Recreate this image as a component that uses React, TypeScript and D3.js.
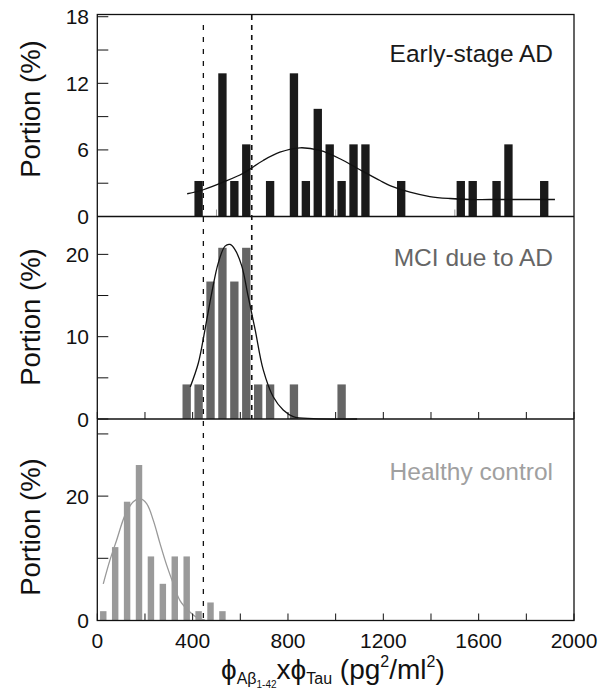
import React from 'react';
import * as d3 from 'd3';

const W = 607;
const H = 691;

// ---------- data ----------
const xTickLabels = [0, 400, 800, 1200, 1600, 2000];
const xMinorTicks = [200, 600, 1000, 1400, 1800];
const thresholds = [445, 648];

const earlyBins = [425, 525, 575, 625, 725, 825, 875, 925, 975, 1025, 1075, 1125, 1275, 1525, 1575, 1675, 1725, 1875];
const earlyPct = [3.2, 12.9, 3.2, 6.5, 3.2, 12.9, 3.2, 9.7, 6.5, 3.2, 6.5, 6.5, 3.2, 3.2, 3.2, 3.2, 6.5, 3.2];
const earlyFitX = [377, 445, 528, 612, 696, 766, 850, 934, 1018, 1102, 1186, 1228, 1312, 1395, 1479, 1563, 1647, 1920];
const earlyFitY = [2.05, 2.41, 3.09, 3.9, 5.05, 5.79, 6.19, 5.95, 5.2, 4.21, 3.24, 2.79, 2.19, 1.8, 1.62, 1.53, 1.53, 1.53];

const mciBins = [375, 425, 475, 525, 575, 625, 675, 725, 825, 1025];
const mciPct = [4.2, 4.2, 16.7, 20.8, 16.7, 20.8, 4.2, 4.2, 4.2, 4.2];
const mciFitX = [390, 424, 452, 480, 508, 536, 557, 577, 606, 633, 662, 696, 738, 780, 822, 906, 1090];
const mciFitY = [3.9, 6.8, 10.9, 15.3, 19.0, 21.0, 21.2, 20.6, 18.6, 14.9, 10.9, 6.0, 2.7, 1.1, 0.3, 0.05, 0];

const healthyBins = [25, 75, 125, 175, 225, 275, 325, 375, 425, 475, 525];
const healthyPct = [1.5, 11.8, 19.1, 25.0, 10.3, 5.9, 10.3, 10.3, 1.5, 2.9, 1.5];
const healthyFitX = [25, 53, 81, 116, 151, 179, 207, 235, 263, 291, 319, 347, 382, 417, 452];
const healthyFitY = [5.9, 9.7, 12.9, 16.9, 19.1, 19.6, 18.8, 16.1, 12.4, 8.9, 5.9, 3.2, 1.6, 0.5, 0.05];

const yLabels1 = [0, 6, 12, 18];
const yMinor1 = [3, 9, 15];
const yLabels2 = [0, 10, 20];
const yMinor2 = [5, 15];
const yLabels3 = [0, 20];
const yMinor3 = [10, 30];

// ---------- layout ----------
const FONT = "'Liberation Sans', Arial, Helvetica, sans-serif";
const X0 = 97.3;
const X1 = 574;
const x = d3.scaleLinear().domain([0, 2000]).range([X0, X1]);

interface Panel {
  name: string;
  bins: number[];
  pct: number[];
  fitX: number[];
  fitY: number[];
  top: number;
  bottom: number;
  ymax: number;
  labels: number[];
  minor: number[];
  barColor: string;
  fitColor: string;
  textColor: string;
  barW: number;
  nameY: number;
  xTicks: number[];
  xTickColor: string;
  portionY: number;
}

const panels: Panel[] = [
  {
    name: 'Early-stage AD', bins: earlyBins, pct: earlyPct, fitX: earlyFitX, fitY: earlyFitY,
    top: 14.5, bottom: 216.5, ymax: 18.2, labels: yLabels1, minor: yMinor1,
    barColor: '#1a1a1a', fitColor: '#111', textColor: '#1a1a1a', barW: 35, nameY: 62,
    xTicks: [500, 1000, 1500], xTickColor: '#999', portionY: 109,
  },
  {
    name: 'MCI due to AD', bins: mciBins, pct: mciPct, fitX: mciFitX, fitY: mciFitY,
    top: 216.5, bottom: 419, ymax: 24.6, labels: yLabels2, minor: yMinor2,
    barColor: '#656565', fitColor: '#111', textColor: '#666666', barW: 35, nameY: 266,
    xTicks: [...xTickLabels, ...xMinorTicks], xTickColor: '#111', portionY: 317,
  },
  {
    name: 'Healthy control', bins: healthyBins, pct: healthyPct, fitX: healthyFitX, fitY: healthyFitY,
    top: 419, bottom: 620.5, ymax: 32.4, labels: yLabels3, minor: yMinor3,
    barColor: '#9a9a9a', fitColor: '#999999', textColor: '#a0a0a0', barW: 27, nameY: 480,
    xTicks: [...xTickLabels, ...xMinorTicks], xTickColor: '#111', portionY: 527,
  },
];

function PanelView({ p }: { p: Panel }) {
  const y = d3.scaleLinear().domain([0, p.ymax]).range([p.bottom, p.top]);
  const line = d3
    .line<number>()
    .x((_, i) => x(p.fitX[i]))
    .y((d) => y(d))
    .curve(d3.curveCatmullRom.alpha(0.5));
  const bw = x(p.barW) - x(0);
  return (
    <g>
      {p.bins.map((b, i) => (
        <rect
          key={i}
          x={x(b) - bw / 2}
          y={y(p.pct[i])}
          width={bw}
          height={y(0) - y(p.pct[i])}
          fill={p.barColor}
        />
      ))}
      <path d={line(p.fitY) || ''} fill="none" stroke={p.fitColor} strokeWidth={1.3} />
      {p.xTicks.map((t) => (
        <line key={'xt' + t} x1={x(t)} x2={x(t)} y1={p.bottom} y2={p.bottom - 7} stroke={p.xTickColor} strokeWidth={1} />
      ))}
      {[...p.labels, ...p.minor].map((t) => (
        <line key={'yt' + t} x1={X0} x2={X0 + 11} y1={y(t)} y2={y(t)} stroke="#111" strokeWidth={1} />
      ))}
      {p.labels.map((t) => (
        <text key={'yl' + t} x={89} y={y(t)} dy="0.36em" textAnchor="end" fontSize={21} fill="#111" fontFamily={FONT}>
          {t}
        </text>
      ))}
      <text
        transform={`translate(40,${p.portionY}) rotate(-90)`}
        textAnchor="middle"
        fontSize={27.5}
        fill="#111"
        fontFamily={FONT}
      >
        Portion (%)
      </text>
      <text x={553} y={p.nameY} textAnchor="end" fontSize={24.5} fill={p.textColor} fontFamily={FONT}>
        {p.name}
      </text>
    </g>
  );
}

export default function App() {
  const top = panels[0].top;
  const bottom = panels[2].bottom;
  return (
    <svg
      width={W}
      height={H}
      viewBox={`0 0 ${W} ${H}`}
      style={{ position: 'absolute', left: 0, top: 0, background: '#fff' }}
    >
      <rect x={0} y={0} width={W} height={H} fill="#fff" />
      {panels.map((p) => (
        <PanelView key={p.name} p={p} />
      ))}
      <line x1={x(thresholds[0])} x2={x(thresholds[0])} y1={25} y2={bottom} stroke="#111" strokeWidth={1.3} strokeDasharray="5,7" />
      <line x1={x(thresholds[1])} x2={x(thresholds[1])} y1={15} y2={panels[1].bottom} stroke="#111" strokeWidth={1.6} strokeDasharray="5,5" />
      <rect x={X0} y={top} width={X1 - X0} height={bottom - top} fill="none" stroke="#111" strokeWidth={1.3} />
      <line x1={X0} x2={X1} y1={panels[0].bottom} y2={panels[0].bottom} stroke="#111" strokeWidth={1.3} />
      <line x1={X0} x2={X1} y1={panels[1].bottom} y2={panels[1].bottom} stroke="#111" strokeWidth={1.3} />
      {xTickLabels.map((t) => (
        <text key={'xl' + t} x={x(t)} y={648} textAnchor="middle" fontSize={21} fill="#111" fontFamily={FONT}>
          {t}
        </text>
      ))}
      <text x={221} y={679} fontSize={28} fill="#111" fontFamily={FONT}>
        <tspan>ϕ</tspan>
        <tspan fontSize={16} dy={5}>Aβ</tspan>
        <tspan fontSize={10} dy={4}>1-42</tspan>
        <tspan fontSize={28} dy={-9}>xϕ</tspan>
        <tspan fontSize={16} dy={5}>Tau</tspan>
        <tspan fontSize={28} dy={-5}> (pg</tspan>
        <tspan fontSize={16} dy={-12}>2</tspan>
        <tspan fontSize={28} dy={12}>/ml</tspan>
        <tspan fontSize={16} dy={-12}>2</tspan>
        <tspan fontSize={28} dy={12}>)</tspan>
      </text>
    </svg>
  );
}
